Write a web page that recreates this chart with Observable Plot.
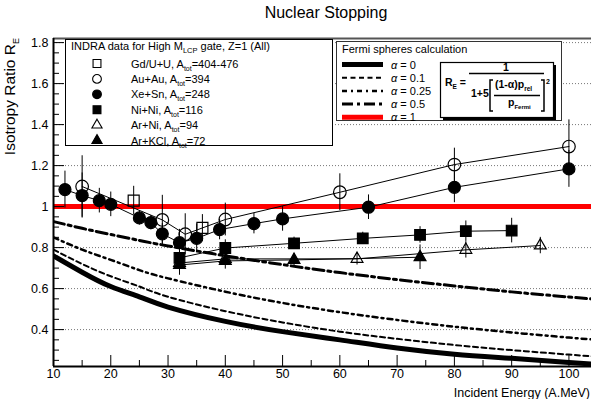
<!DOCTYPE html>
<html><head><meta charset="utf-8">
<script src="https://cdn.jsdelivr.net/npm/d3@7"></script>
<script src="https://cdn.jsdelivr.net/npm/@observablehq/plot@0.6"></script>
<style>
html,body{margin:0;padding:0;background:#fff;}
#wrap{position:relative;width:591px;height:399px;overflow:hidden;font-family:"Liberation Sans",Arial,Helvetica,sans-serif;}
#wrap svg{position:absolute;left:0;top:0;}
</style></head><body><div id="wrap"></div>
<script>
// ---------- data ----------
const xeSnE   = [12, 15, 18, 20, 25, 27, 29, 32, 35, 39, 45, 50, 65, 80, 100];
const xeSnR   = [1.083, 1.054, 1.029, 1.011, 0.945, 0.922, 0.867, 0.824, 0.845, 0.888, 0.917, 0.94, 0.997, 1.094, 1.184];
const xeSnErr = [0.09, 0.11, 0.06, 0.06, 0.035, 0.035, 0.05, 0.065, 0.07, 0.05, 0.05, 0.06, 0.06, 0.075, 0.09];

const auAuE   = [15, 29, 33, 40, 60, 80, 100];
const auAuR   = [1.098, 0.935, 0.865, 0.937, 1.07, 1.205, 1.293];
const auAuErr = [0.15, 0.12, 0.10, 0.08, 0.09, 0.08, 0.13];

const gdUE    = [24, 36];
const gdUR    = [1.029, 0.896];
const gdUErr  = [0.07, 0.065];

const niNiE   = [32, 40, 52, 64, 74, 82, 90];
const niNiR   = [0.75, 0.798, 0.821, 0.845, 0.862, 0.88, 0.883];
const niNiErr = [0.04, 0.04, 0.03, 0.03, 0.04, 0.05, 0.06];

const arNiE   = [32, 40, 63, 82, 95];
const arNiR   = [0.725, 0.745, 0.745, 0.789, 0.81];
const arNiErr = [0.04, 0.03, 0.03, 0.04, 0.04];

const arKClE   = [32, 40, 52, 74];
const arKClR   = [0.715, 0.735, 0.74, 0.753];
const arKClErr = [0.05, 0.04, 0.03, 0.06];

// Fermi spheres calculation curves
const modelE   = [10, 15, 20, 25, 30, 40, 50, 60, 70, 80, 90, 100, 105];
const alpha0   = [0.76, 0.68, 0.61, 0.56, 0.51, 0.44, 0.39, 0.35, 0.31, 0.28, 0.26, 0.24, 0.23];
const alpha01  = [0.79, 0.72, 0.66, 0.61, 0.56, 0.49, 0.435, 0.39, 0.355, 0.325, 0.30, 0.278, 0.268];
const alpha025 = [0.85, 0.79, 0.74, 0.69, 0.65, 0.585, 0.53, 0.485, 0.447, 0.414, 0.386, 0.361, 0.35];
const alpha05  = [0.927, 0.894, 0.864, 0.835, 0.808, 0.76, 0.717, 0.678, 0.644, 0.613, 0.584, 0.559, 0.547];
const alpha1   = [1, 1, 1, 1, 1, 1, 1, 1, 1, 1, 1, 1, 1];

// axis ticks
const xMajor = [10, 20, 30, 40, 50, 60, 70, 80, 90, 100];
const xMinor = [15, 25, 35, 45, 55, 65, 75, 85, 95];
const yMajor = [0.4, 0.6, 0.8, 1.0, 1.2, 1.4, 1.6, 1.8];
const yMinor = [0.25,0.3,0.35,0.45,0.5,0.55,0.65,0.7,0.75,0.85,0.9,0.95,1.05,1.1,1.15,1.25,1.3,1.35,1.45,1.5,1.55,1.65,1.7,1.75];

// legend labels
const seriesLabels = [
  ["Gd/U+U, A", "tot", "=404-476"],
  ["Au+Au, A", "tot", "=394"],
  ["Xe+Sn, A", "tot", "=248"],
  ["Ni+Ni, A", "tot", "=116"],
  ["Ar+Ni, A", "tot", "=94"],
  ["Ar+KCl, A", "tot", "=72"]
];
const alphaLabels = ["0", "0.1", "0.25", "0.5", "1"];

// ---------- build ----------
const W = 591, H = 399;
const mT = 38, mB = 33, mL = 53, mR = 0;
const innerW = W - mL - mR, innerH = H - mT - mB;
const xDomain = [10, 103.94], yDomain = [0.22, 1.82];

const rows = (E, R, err) => E.map((e, i) => ({E: e, R: R[i], err: err[i]}));
const series = [
  {rows: rows(gdUE, gdUR, gdUErr), symbol: "square", fill: "none", r: 6.2, line: false},
  {rows: rows(auAuE, auAuR, auAuErr), symbol: "circle", fill: "none", r: 6.3, line: true},
  {rows: rows(xeSnE, xeSnR, xeSnErr), symbol: "circle", fill: "black", r: 6, line: true},
  {rows: rows(niNiE, niNiR, niNiErr), symbol: "square", fill: "black", r: 6, line: true},
  {rows: rows(arNiE, arNiR, arNiErr), symbol: "triangle", fill: "none", r: 4.4, line: true},
  {rows: rows(arKClE, arKClR, arKClErr), symbol: "triangle", fill: "black", r: 4.4, line: true}
];
const model = modelE.map((e, i) => ({E: e, a0: alpha0[i], a01: alpha01[i], a025: alpha025[i], a05: alpha05[i], a1: alpha1[i]}));

const curveStyles = [
  {key: "a0",   stroke: "black",   width: 5,   dash: null},
  {key: "a01",  stroke: "black",   width: 2,   dash: "5,3.5"},
  {key: "a025", stroke: "black",   width: 2.5, dash: "5,4,2,4"},
  {key: "a05",  stroke: "black",   width: 3,   dash: "11,4,3,4"},
  {key: "a1",   stroke: "#ff0000", width: 5,   dash: null}
];

const marks = [
  Plot.ruleY(yMajor, {y: d => d, stroke: "#777", strokeWidth: 1, strokeDasharray: "1,2"}),
  ...curveStyles.map(c => Plot.line(model, {x: "E", y: c.key, stroke: c.stroke, strokeWidth: c.width,
      strokeDasharray: c.dash, curve: "natural", clip: true})),
  ...series.filter(s => s.line).map(s => Plot.line(s.rows, {x: "E", y: "R", stroke: "black", strokeWidth: 1})),
  ...series.map(s => Plot.ruleX(s.rows, {x: "E", y1: d => d.R - d.err, y2: d => d.R + d.err, stroke: "black", strokeWidth: 1})),
  ...series.map(s => Plot.dot(s.rows, {x: "E", y: "R", symbol: s.symbol, r: s.r, fill: s.fill, stroke: "black", strokeWidth: 1.2})),
  Plot.tickY(yMajor, {y: d => d, stroke: "black", strokeWidth: 1, insetRight: innerW - 11}),
  Plot.tickY(yMinor, {y: d => d, stroke: "black", strokeWidth: 1, insetRight: innerW - 6}),
  Plot.tickX(xMajor, {x: d => d, stroke: "black", strokeWidth: 1, insetTop: innerH - 11}),
  Plot.tickX(xMinor, {x: d => d, stroke: "black", strokeWidth: 1, insetTop: innerH - 6}),
  Plot.ruleY([yDomain[1]], {y: d => d, stroke: "#555", strokeWidth: 2}),
  Plot.ruleX([xDomain[0]], {x: d => d, stroke: "black", strokeWidth: 2}),
  Plot.ruleY([yDomain[0]], {y: d => d, stroke: "black", strokeWidth: 2}),
  Plot.axisY({ticks: yMajor, tickSize: 0, tickPadding: 5, label: null, fontSize: 12.5,
    tickFormat: d => d === 1 ? "1" : d.toFixed(1)}),
  Plot.axisX({ticks: xMajor, tickSize: 0, tickPadding: 3, label: null, fontSize: 12.5,
    tickFormat: d => String(d)})
];

const chart = Plot.plot({
  width: W, height: H,
  marginTop: mT, marginBottom: mB, marginLeft: mL, marginRight: mR,
  x: {domain: xDomain},
  y: {domain: yDomain},
  style: {fontFamily: '"Liberation Sans", Arial, Helvetica, sans-serif', fontSize: "12.5px", background: "white", color: "black"},
  marks
});
const wrap = document.getElementById("wrap");
wrap.appendChild(chart);

// ---------- overlay: titles and legends ----------
const ov = d3.select(wrap).append("svg").attr("width", W).attr("height", H)
  .attr("font-family", '"Liberation Sans", Arial, Helvetica, sans-serif');

ov.append("text").attr("x", 326).attr("y", 18).attr("text-anchor", "middle").attr("font-size", 16).text("Nuclear Stopping");
const yt = ov.append("text").attr("transform", "translate(15,38) rotate(-90)").attr("text-anchor", "end").attr("font-size", 15.5);
yt.append("tspan").text("Isotropy Ratio R");
yt.append("tspan").attr("font-size", 9).attr("dy", 4).text("E");
ov.append("text").attr("x", 590).attr("y", 397).attr("text-anchor", "end").attr("font-size", 12.5).text("Incident Energy (A.MeV)");

// INDRA legend
ov.append("rect").attr("x", 65.5).attr("y", 39.5).attr("width", 267).attr("height", 106).attr("fill", "white").attr("stroke", "black");
const hd = ov.append("text").attr("x", 71).attr("y", 50).attr("font-size", 11);
hd.append("tspan").text("INDRA data for High M");
hd.append("tspan").attr("font-size", 7.5).attr("dy", 3).text("LCP");
hd.append("tspan").attr("dy", -3).text(" gate, Z=1 (All)");
const legSym = [
  {t: "square", f: "none"}, {t: "circle", f: "none"}, {t: "circle", f: "black"},
  {t: "square", f: "black"}, {t: "triangle", f: "none"}, {t: "triangle", f: "black"}
];
seriesLabels.forEach((lab, i) => {
  const cy = 63.5 + i * 15.4;
  const s = legSym[i];
  const sym = s.t === "square" ? d3.symbolSquare : s.t === "circle" ? d3.symbolCircle : d3.symbolTriangle;
  const size = s.t === "triangle" ? 45 : s.t === "square" ? 62 : 60;
  ov.append("path").attr("d", d3.symbol(sym, size)()).attr("transform", `translate(97,${cy})`)
    .attr("fill", s.f).attr("stroke", "black").attr("stroke-width", 1.1);
  const t = ov.append("text").attr("x", 131).attr("y", cy + 4).attr("font-size", 11);
  t.append("tspan").text(lab[0]);
  t.append("tspan").attr("font-size", 7).attr("dy", 3).text(lab[1]);
  t.append("tspan").attr("dy", -3).text(lab[2]);
});

// Fermi legend
ov.append("rect").attr("x", 336.5).attr("y", 41.5).attr("width", 225).attr("height", 79).attr("fill", "white").attr("stroke", "#333");
ov.append("text").attr("x", 342).attr("y", 53).attr("font-size", 11).text("Fermi spheres calculation");
alphaLabels.forEach((a, i) => {
  const cy = 64.5 + i * 13.2;
  const c = curveStyles[i];
  ov.append("line").attr("x1", 342).attr("x2", 383).attr("y1", cy).attr("y2", cy)
    .attr("stroke", c.stroke).attr("stroke-width", c.width).attr("stroke-dasharray", c.dash);
  const t = ov.append("text").attr("x", 391).attr("y", cy + 4).attr("font-size", 11);
  t.append("tspan").attr("font-style", "italic").text("α");
  t.append("tspan").text(" = " + a);
});

// formula box
ov.append("rect").attr("x", 443).attr("y", 65).attr("width", 113).attr("height", 55).attr("fill", "black");
ov.append("rect").attr("x", 440.5).attr("y", 62.5).attr("width", 113).attr("height", 55).attr("fill", "white").attr("stroke", "black").attr("stroke-width", 1.2);
const fg = ov.append("g").attr("font-weight", "bold").attr("font-size", 10.5);
const re = fg.append("text").attr("x", 445).attr("y", 86);
re.append("tspan").text("R");
re.append("tspan").attr("font-size", 6.5).attr("dy", 2.5).text("E");
re.append("tspan").attr("dy", -2.5).text(" =");
fg.append("text").attr("x", 506).attr("y", 70.5).attr("text-anchor", "middle").text("1");
fg.append("line").attr("x1", 469).attr("x2", 544).attr("y1", 73.5).attr("y2", 73.5).attr("stroke", "black").attr("stroke-width", 1.3);
fg.append("text").attr("x", 471).attr("y", 97).text("1+5");
fg.append("path").attr("d", "M493,80 H490 V111 H493 M541,80 H544 V111 H541").attr("fill", "none").attr("stroke", "black").attr("stroke-width", 1.5);
const num = fg.append("text").attr("x", 495).attr("y", 88);
num.append("tspan").text("(1-α)p");
num.append("tspan").attr("font-size", 6.5).attr("dy", 2.5).text("rel");
fg.append("line").attr("x1", 494).attr("x2", 540).attr("y1", 95.5).attr("y2", 95.5).attr("stroke", "black").attr("stroke-width", 1.3);
const den = fg.append("text").attr("x", 508).attr("y", 106);
den.append("tspan").text("p");
den.append("tspan").attr("font-size", 6).attr("dy", 2.5).text("Fermi");
fg.append("text").attr("x", 546).attr("y", 84).attr("font-size", 7).text("2");
</script></body></html>
